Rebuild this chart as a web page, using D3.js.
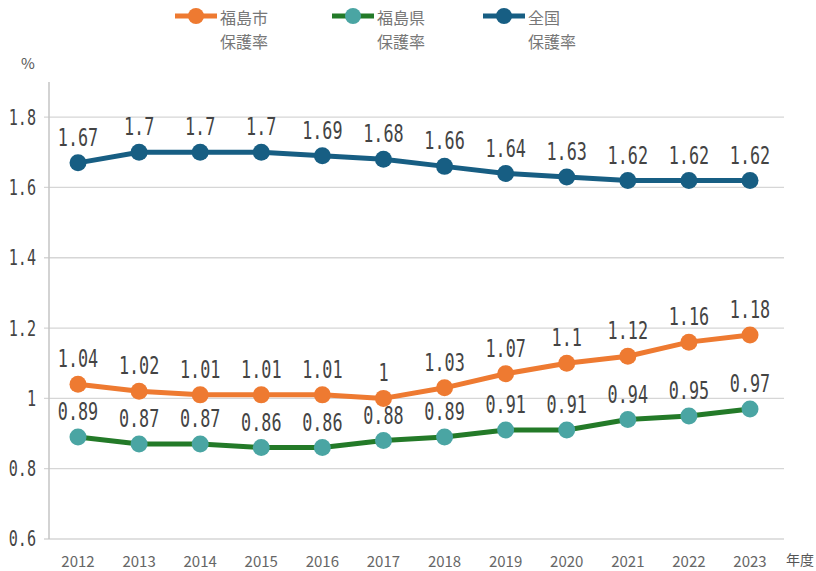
<!DOCTYPE html>
<html>
<head>
<meta charset="utf-8">
<script src="https://cdn.jsdelivr.net/npm/d3@7"></script>
<style>
  body { margin: 0; background: #fff; }
  svg { display: block; }
</style>
</head>
<body>
<div id="chart"></div>
<script>
// data
const years = ["2012","2013","2014","2015","2016","2017","2018","2019","2020","2021","2022","2023"]
const cityRate = [1.04,1.02,1.01,1.01,1.01,1,1.03,1.07,1.1,1.12,1.16,1.18]
const prefRate = [0.89,0.87,0.87,0.86,0.86,0.88,0.89,0.91,0.91,0.94,0.95,0.97]
const nationRate = [1.67,1.7,1.7,1.7,1.69,1.68,1.66,1.64,1.63,1.62,1.62,1.62]
const yTicks = [0.6,0.8,1,1.2,1.4,1.6,1.8]
const seriesNames = [["福島市","保護率"],["福島県","保護率"],["全国","保護率"]]

const width = 816, height = 571

const series = [
    {name: seriesNames[0], values: cityRate, line: "#ee7a31", dot: "#ee7a31"},
    {name: seriesNames[1], values: prefRate, line: "#237a28", dot: "#4aa5a3"},
    {name: seriesNames[2], values: nationRate, line: "#175e83", dot: "#175e83"}
]

svg = d3.select("#chart").append("svg")
    .attr("width", width)
    .attr("height", height)

x = d3.scalePoint().domain(years).range([78, 750])
y = d3.scaleLinear().domain([0.6, 1.9]).range([539, 82])

// grid lines
svg.append("g")
   .selectAll("line")
   .data(yTicks)
   .join("line")
   .attr("x1", 44).attr("x2", 784)
   .attr("y1", d => y(d)).attr("y2", d => y(d))
   .attr("stroke", "#d6d6d6")
   .attr("stroke-width", 1.3)

// y axis line
svg.append("line")
   .attr("x1", 49).attr("x2", 49)
   .attr("y1", y(1.9)).attr("y2", y(0.6))
   .attr("stroke", "#c4c4c4")
   .attr("stroke-width", 1.5)

// condensed mono text helper
function monoText(g, txt, cx, cy, size, sx, anchor){
    g.append("text")
     .attr("transform", `translate(${cx},${cy}) scale(${sx},1)`)
     .attr("text-anchor", anchor || "middle")
     .attr("dominant-baseline", "central")
     .style("font-family", "'DejaVu Sans Mono', 'Liberation Mono', monospace")
     .style("font-size", size + "px")
     .attr("fill", "#444")
     .text(txt)
}

// y tick labels
yLabels = svg.append("g")
yTicks.forEach(t => {
    monoText(yLabels, String(t), 36, y(t), 21, 0.72, "end")
})

// % unit
svg.append("text")
   .attr("x", 28).attr("y", 62)
   .attr("text-anchor", "middle")
   .attr("dominant-baseline", "central")
   .style("font-family", "'Noto Sans CJK JP', sans-serif")
   .style("font-size", "15px")
   .attr("fill", "#555")
   .text("%")

// x labels
svg.append("g")
   .selectAll("text")
   .data(years)
   .join("text")
   .attr("x", d => x(d))
   .attr("y", 560)
   .attr("text-anchor", "middle")
   .attr("dominant-baseline", "central")
   .style("font-family", "'Noto Sans CJK JP', sans-serif")
   .style("font-size", "15px")
   .attr("fill", "#666")
   .text(d => d)

svg.append("text")
   .attr("x", 800).attr("y", 559)
   .attr("text-anchor", "middle")
   .attr("dominant-baseline", "central")
   .style("font-family", "'Noto Sans CJK JP', sans-serif")
   .style("font-size", "14px")
   .attr("fill", "#555")
   .text("年度")

// lines + markers + value labels
lineGen = d3.line()
    .x((d, i) => x(years[i]))
    .y(d => y(d))

series.forEach(s => {
    let g = svg.append("g")
    g.append("path")
     .datum(s.values)
     .attr("d", lineGen)
     .attr("fill", "none")
     .attr("stroke", s.line)
     .attr("stroke-width", 5)
     .attr("stroke-linejoin", "round")
    g.selectAll("circle")
     .data(s.values)
     .join("circle")
     .attr("cx", (d, i) => x(years[i]))
     .attr("cy", d => y(d))
     .attr("r", 8.5)
     .attr("fill", s.dot)
    s.values.forEach((v, i) => {
        monoText(g, String(v), x(years[i]), y(v) - 25, 24, 0.7)
    })
})

// legend
const legendX = [175, 332, 483]
series.forEach((s, i) => {
    let lg = svg.append("g").attr("transform", `translate(${legendX[i]},0)`)
    lg.append("line")
      .attr("x1", 0).attr("x2", 42)
      .attr("y1", 16).attr("y2", 16)
      .attr("stroke", s.line)
      .attr("stroke-width", 5)
    lg.append("circle")
      .attr("cx", 21).attr("cy", 16)
      .attr("r", 8)
      .attr("fill", s.dot)
    s.name.forEach((n, j) => {
        lg.append("text")
          .attr("x", 45)
          .attr("y", 17 + j * 24)
          .attr("dominant-baseline", "central")
          .style("font-family", "'Noto Sans CJK JP', sans-serif")
          .style("font-size", "16px")
          .attr("fill", "#777")
          .text(n)
    })
})
</script>
</body>
</html>
